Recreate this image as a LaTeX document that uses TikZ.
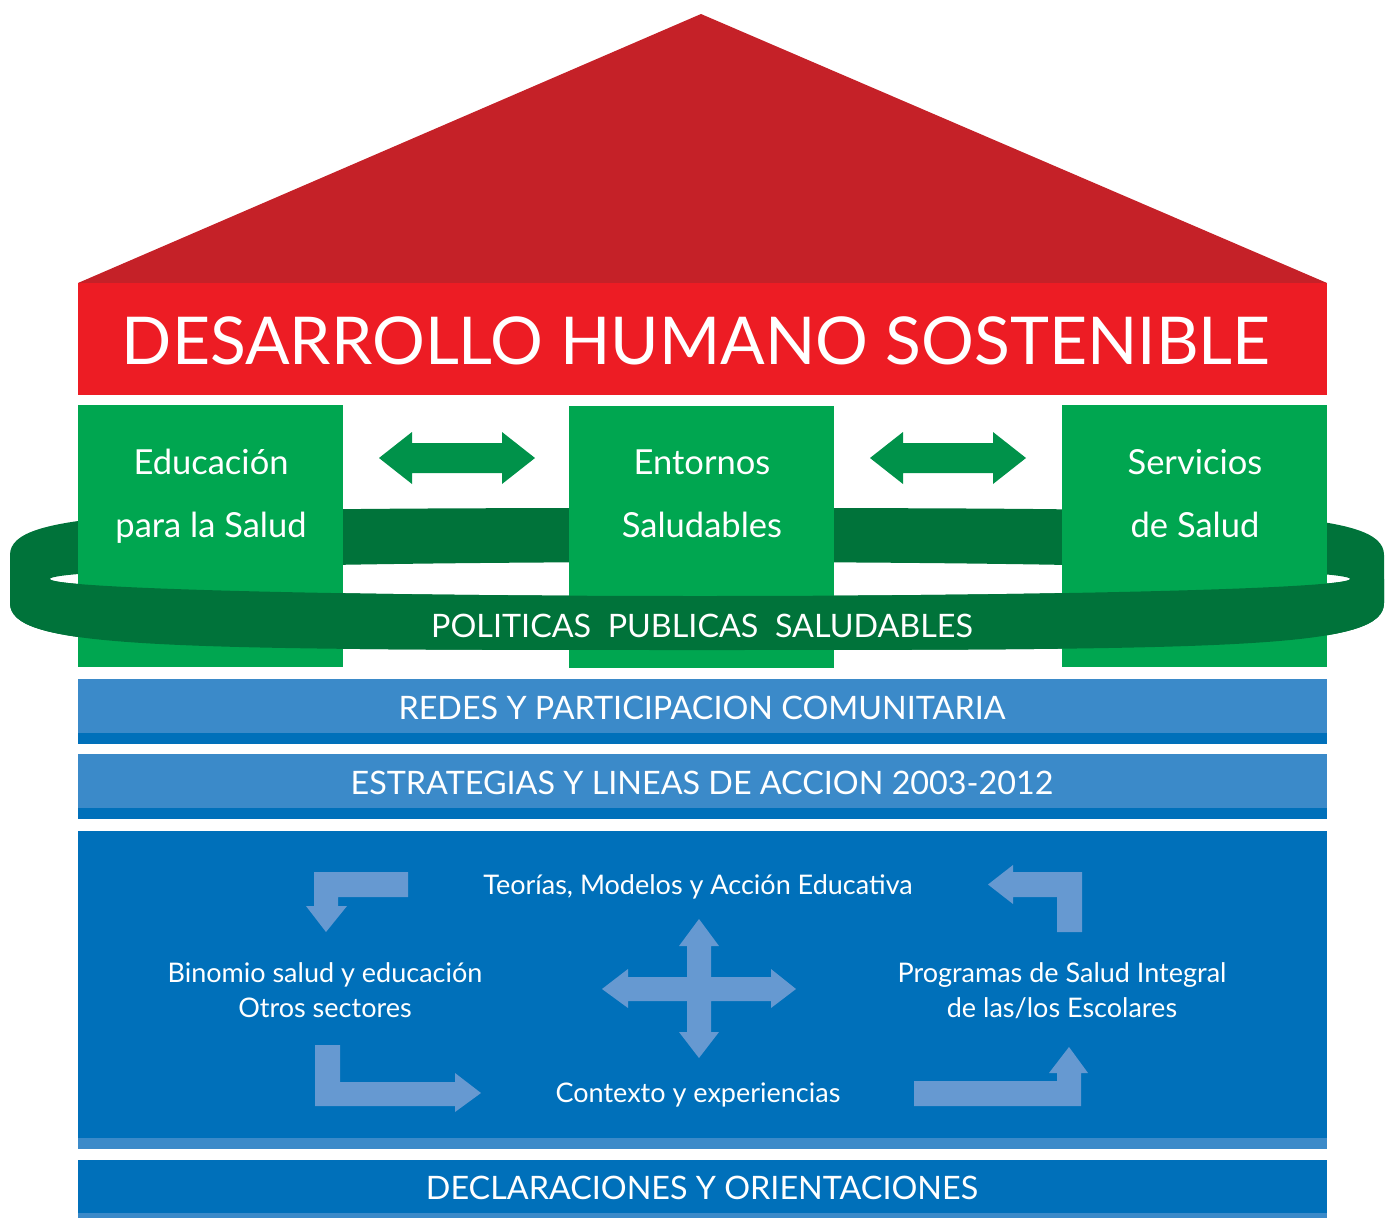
\documentclass[tikz,border=0pt]{standalone}
\usepackage{fontspec}
\setmainfont{Lato}
\definecolor{roof}{HTML}{C52128}
\definecolor{redband}{HTML}{ED1C24}
\definecolor{boxgreen}{HTML}{00A650}
\definecolor{ringgreen}{HTML}{00733A}
\definecolor{arrowgreen}{HTML}{00924A}
\definecolor{lightblue}{HTML}{3B8AC9}
\definecolor{darkblue}{HTML}{0070BA}
\definecolor{paleblue}{HTML}{6699D1}
\tikzset{
  wtxt/.style={text=white, inner sep=0pt, anchor=base},
  boxtxt/.style={wtxt, font=\fontsize{34.5}{34.5}\selectfont},
  bartxt/.style={wtxt, font=\fontsize{32.3}{32.3}\selectfont},
  intxt/.style={wtxt, font=\fontsize{27}{27}\selectfont},
  gbox/.style={fill=boxgreen, draw=none, inner sep=0pt, minimum width=265pt, minimum height=262pt, anchor=north west},
  garrow/.style={fill=arrowgreen},
  parrow/.style={fill=paleblue},
}
\begin{document}
\begin{tikzpicture}[x=1pt,y=-1pt]
\useasboundingbox (0,0) rectangle (1385,1218);
% roof
\fill[roof] (78,283) -- (701,14) -- (1327,283) -- cycle;
\fill[redband] (78,283) rectangle (1327,395);
\node[wtxt, font=\fontsize{66}{66}\selectfont] (title) at (696,364) {DESARROLLO HUMANO SOSTENIBLE};
% ring back
\fill[ringgreen, even odd rule]
  (10,555) .. controls (10,510) and (150,508) .. (697,508)
  .. controls (1244,508) and (1384,510) .. (1384,555)
  -- (1384,603) .. controls (1384,648) and (1244,650) .. (697,650)
  .. controls (150,650) and (10,648) .. (10,603) -- cycle
  (700,579) ellipse[x radius=650, y radius=17];
% green boxes
\node[gbox] (edu) at (78,405) {};
\node[gbox] (ent) at (569,406) {};
\node[gbox] (ser) at (1062,405) {};
% ring front
\fill[ringgreen]
  (50,579) arc[start angle=180, end angle=0, x radius=650, y radius=17]
  -- (1384,579) -- (1384,603) .. controls (1384,648) and (1244,650) .. (697,650)
  .. controls (150,650) and (10,648) .. (10,603) -- (10,579) -- cycle;
% green double arrows
\fill[garrow] (379,458) -- (412,432) -- (412,443) -- (502,443) -- (502,432) -- (535,458)
  -- (502,484) -- (502,473) -- (412,473) -- (412,484) -- cycle;
\fill[garrow] (870,458) -- (903,432) -- (903,443) -- (993,443) -- (993,432) -- (1026,458)
  -- (993,484) -- (993,473) -- (903,473) -- (903,484) -- cycle;
% box texts
\node[boxtxt] (edu1) at (211,474) {Educación};
\node[boxtxt] (edu2) at (211,537) {para la Salud};
\node[boxtxt] (ent1) at (702,474) {Entornos};
\node[boxtxt] (ent2) at (702,537) {Saludables};
\node[boxtxt] (ser1) at (1195,474) {Servicios};
\node[boxtxt] (ser2) at (1195,537) {de Salud};
\node[bartxt] (pol) at (702,637) {POLITICAS\ \ PUBLICAS\ \ SALUDABLES};
% blue bars
\fill[lightblue] (78,679) rectangle (1327,733);
\fill[darkblue] (78,733) rectangle (1327,744);
\node[bartxt] (redes) at (702,719) {REDES Y PARTICIPACION COMUNITARIA};
\fill[lightblue] (78,754) rectangle (1327,808);
\fill[darkblue] (78,808) rectangle (1327,819);
\node[bartxt] (estr) at (702,794) {ESTRATEGIAS Y LINEAS DE ACCION 2003-2012};
\fill[darkblue] (78,831) rectangle (1327,1138);
\fill[lightblue] (78,1138) rectangle (1327,1149);
\fill[darkblue] (78,1160) rectangle (1327,1213);
\fill[lightblue] (78,1213) rectangle (1327,1218);
\node[bartxt] (decl) at (702,1199) {DECLARACIONES Y ORIENTACIONES};
% pale arrows
\fill[parrow] (408,872) -- (408,897) -- (338,897) -- (338,906) -- (347,906) -- (326,932)
  -- (306,906) -- (314,906) -- (314,872) -- cycle;
\fill[parrow] (1082,932) -- (1057,932) -- (1057,897) -- (1013,897) -- (1013,904) -- (988,884.5)
  -- (1013,865) -- (1013,872) -- (1082,872) -- cycle;
\fill[parrow] (315,1045) -- (340,1045) -- (340,1082) -- (455,1082) -- (455,1073) -- (481,1093)
  -- (455,1112) -- (455,1106) -- (315,1106) -- cycle;
\fill[parrow] (914,1081) -- (1057,1081) -- (1057,1073) -- (1049,1073) -- (1069,1047) -- (1088,1073)
  -- (1081,1073) -- (1081,1106) -- (914,1106) -- cycle;
\fill[parrow] (602,989) -- (628,969) -- (628,977) -- (687,977) -- (687,946) -- (679,946)
  -- (699,919) -- (719,946) -- (711,946) -- (711,977) -- (771,977) -- (771,969) -- (796,989)
  -- (771,1008) -- (771,1001) -- (711,1001) -- (711,1032) -- (719,1032) -- (699,1058)
  -- (679,1032) -- (687,1032) -- (687,1001) -- (628,1001) -- (628,1008) -- cycle;
% inner texts
\node[intxt] (teo) at (698,894) {Teorías, Modelos y Acción Educativa};
\node[intxt] (bin1) at (325,982) {Binomio salud y educación};
\node[intxt] (bin2) at (325,1017) {Otros sectores};
\node[intxt] (pro1) at (1062,982) {Programas de Salud Integral};
\node[intxt] (pro2) at (1062,1017) {de las/los Escolares};
\node[intxt] (ctx) at (698,1102) {Contexto y experiencias};
\end{tikzpicture}
\end{document}
